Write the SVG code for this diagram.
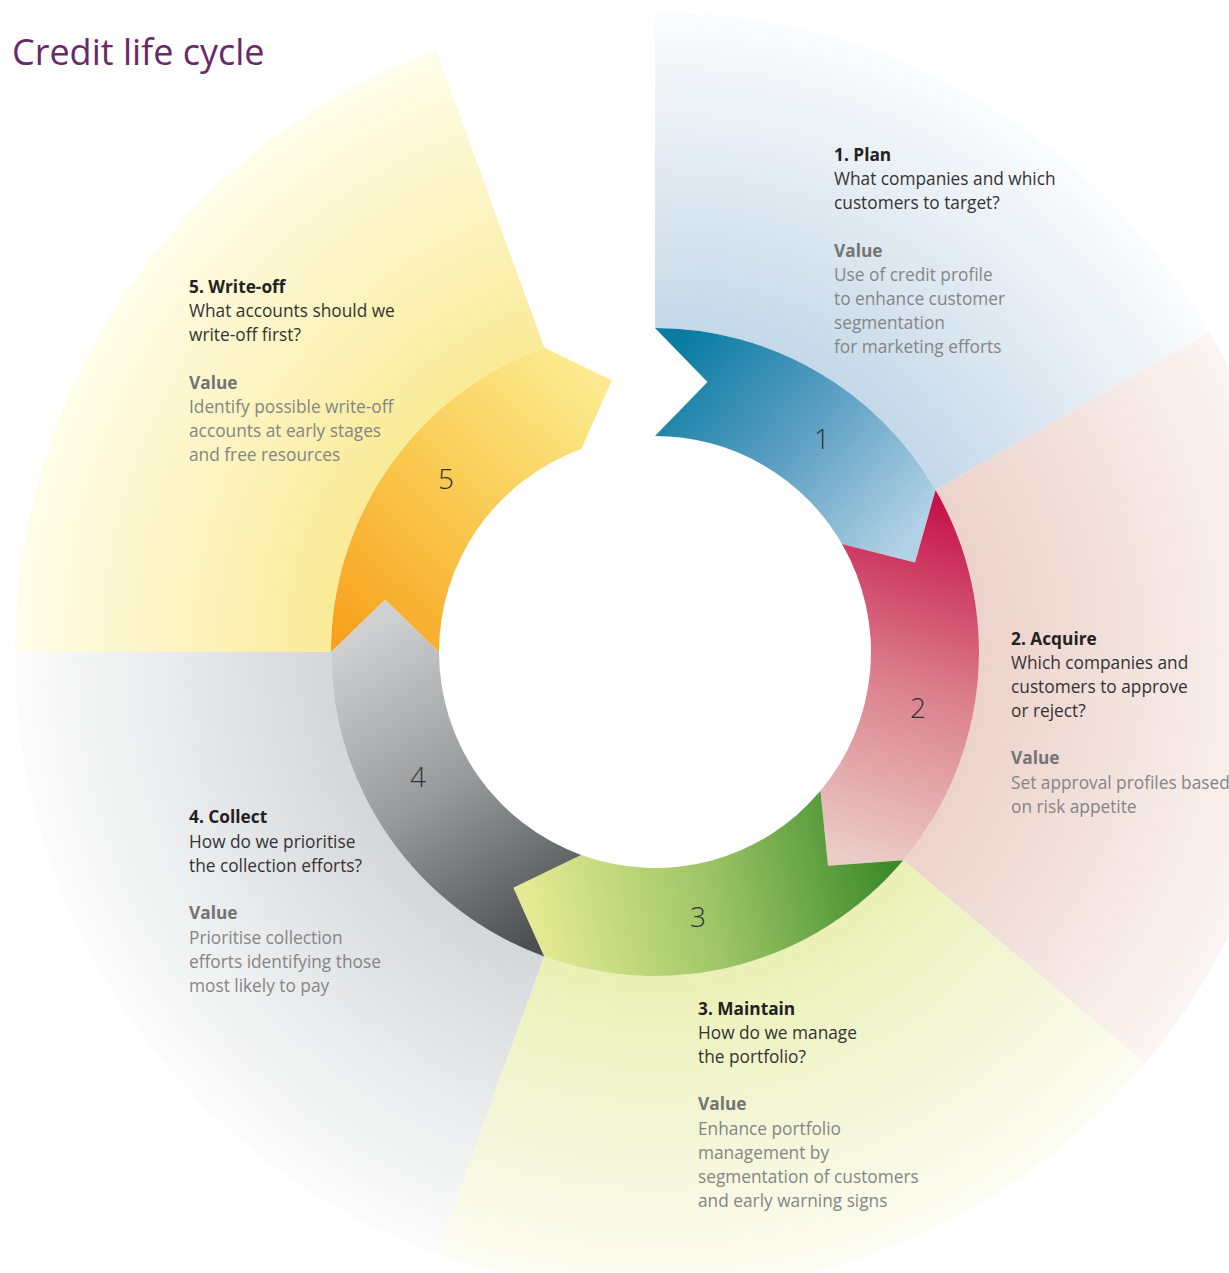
<svg xmlns="http://www.w3.org/2000/svg" width="1229" height="1273" viewBox="0 0 1229 1273">
<style>
  text { font-family: "Open Sans", "Noto Sans", "DejaVu Sans", sans-serif; }
  .title { font-size: 36px; fill: #67296b; font-weight: 400; }
  .head { font-size: 17.3px; font-weight: 700; fill: #222222; }
  .q { font-size: 17.3px; fill: #333333; }
  .vh { font-size: 17.3px; font-weight: 700; fill: #747474; }
  .v { font-size: 17.3px; fill: #858585; }
  .num { font-size: 28px; fill: #333333; text-anchor: middle; font-weight: 300; }
</style>
<defs>
  <radialGradient id="wBlue" gradientUnits="userSpaceOnUse" cx="655" cy="652" r="640">
    <stop offset="0.5" stop-color="#c4d8e8"/>
    <stop offset="0.75" stop-color="#e1eaf2"/>
    <stop offset="1" stop-color="#fbfcfd"/>
  </radialGradient>
  <radialGradient id="wPink" gradientUnits="userSpaceOnUse" cx="655" cy="652" r="640">
    <stop offset="0.5" stop-color="#ecd2ca"/>
    <stop offset="0.75" stop-color="#f3e3de"/>
    <stop offset="1" stop-color="#fbf5f3"/>
  </radialGradient>
  <radialGradient id="wGreen" gradientUnits="userSpaceOnUse" cx="655" cy="652" r="640">
    <stop offset="0.5" stop-color="#eaf0b4"/>
    <stop offset="0.75" stop-color="#f3f6d6"/>
    <stop offset="1" stop-color="#fcfdf3"/>
  </radialGradient>
  <radialGradient id="wGrey" gradientUnits="userSpaceOnUse" cx="655" cy="652" r="640">
    <stop offset="0.5" stop-color="#d5d6d9"/>
    <stop offset="0.75" stop-color="#e9eaeb"/>
    <stop offset="1" stop-color="#fcfcfc"/>
  </radialGradient>
  <radialGradient id="wYellow" gradientUnits="userSpaceOnUse" cx="655" cy="652" r="640">
    <stop offset="0.5" stop-color="#f9eb96"/>
    <stop offset="0.75" stop-color="#fcf4c2"/>
    <stop offset="1" stop-color="#fefde9"/>
  </radialGradient>
  <linearGradient id="sBlue" gradientUnits="userSpaceOnUse" x1="675" y1="350" x2="905" y2="545">
    <stop offset="0" stop-color="#0a7ca2"/>
    <stop offset="0.5" stop-color="#5c9fc2"/>
    <stop offset="1" stop-color="#b2d2e5"/>
  </linearGradient>
  <linearGradient id="sPink" gradientUnits="userSpaceOnUse" x1="945" y1="505" x2="845" y2="855">
    <stop offset="0" stop-color="#c6134b"/>
    <stop offset="0.5" stop-color="#db7f8c"/>
    <stop offset="1" stop-color="#ebccc6"/>
  </linearGradient>
  <linearGradient id="sGreen" gradientUnits="userSpaceOnUse" x1="885" y1="840" x2="535" y2="915">
    <stop offset="0" stop-color="#3d8a2b"/>
    <stop offset="0.5" stop-color="#9cc466"/>
    <stop offset="1" stop-color="#e3ea92"/>
  </linearGradient>
  <linearGradient id="sGrey" gradientUnits="userSpaceOnUse" x1="545" y1="935" x2="360" y2="630">
    <stop offset="0" stop-color="#4e4f51"/>
    <stop offset="0.5" stop-color="#999a9c"/>
    <stop offset="1" stop-color="#d0d1d3"/>
  </linearGradient>
  <linearGradient id="sYellow" gradientUnits="userSpaceOnUse" x1="345" y1="645" x2="595" y2="385">
    <stop offset="0" stop-color="#f7a11c"/>
    <stop offset="0.5" stop-color="#f9c950"/>
    <stop offset="1" stop-color="#fbeb8e"/>
  </linearGradient>
</defs>
<rect x="0" y="0" width="1229" height="1273" fill="#ffffff"/>

<text class="title" x="12" y="65">Credit life cycle</text>

<g id="node-1-plan">
  <path d="M655,12 A640,640 0 0,1 1209.26,332 L935.59,490 A324,324 0 0,0 655,328 Z" fill="url(#wBlue)"/>
  <path d="M655,328 A324,324 0 0,1 935.59,490 L915.02,562.47 L842.06,544 A216,216 0 0,0 655,436 L707.47,382.05 Z" fill="url(#sBlue)"/>
  <text class="num" x="822" y="449">1</text>
  <text class="head" x="834" y="161">1. Plan</text>
  <text class="q" x="834" y="185">What companies and which</text>
  <text class="q" x="834" y="209">customers to target?</text>
  <text class="vh" x="834" y="257">Value</text>
  <text class="v" x="834" y="281">Use of credit profile</text>
  <text class="v" x="834" y="305">to enhance customer</text>
  <text class="v" x="834" y="329">segmentation</text>
  <text class="v" x="834" y="353">for marketing efforts</text>
</g>

<g id="node-2-acquire">
  <path d="M1209.26,332 A640,640 0 0,1 1145.27,1063.39 L903.20,860.26 A324,324 0 0,0 935.59,490 Z" fill="url(#wPink)"/>
  <path d="M935.59,490 A324,324 0 0,1 903.20,860.26 L828.06,865.72 L820.46,790.84 A216,216 0 0,0 842.06,544 L915.02,562.47 Z" fill="url(#sPink)"/>
  <text class="num" x="918" y="718">2</text>
  <text class="head" x="1011" y="645">2. Acquire</text>
  <text class="q" x="1011" y="669">Which companies and</text>
  <text class="q" x="1011" y="693">customers to approve</text>
  <text class="q" x="1011" y="717">or reject?</text>
  <text class="vh" x="1011" y="764">Value</text>
  <text class="v" x="1011" y="789">Set approval profiles based</text>
  <text class="v" x="1011" y="813">on risk appetite</text>
</g>

<g id="node-3-maintain">
  <path d="M1145.27,1063.39 A640,640 0 0,1 436.11,1253.40 L544.19,956.46 A324,324 0 0,0 903.20,860.26 Z" fill="url(#wGreen)"/>
  <path d="M903.20,860.26 A324,324 0 0,1 544.19,956.46 L513.36,887.72 L581.12,854.97 A216,216 0 0,0 820.46,790.84 L828.06,865.72 Z" fill="url(#sGreen)"/>
  <text class="num" x="698" y="927">3</text>
  <text class="head" x="698" y="1015">3. Maintain</text>
  <text class="q" x="698" y="1039">How do we manage</text>
  <text class="q" x="698" y="1063">the portfolio?</text>
  <text class="vh" x="698" y="1110">Value</text>
  <text class="v" x="698" y="1135">Enhance portfolio</text>
  <text class="v" x="698" y="1159">management by</text>
  <text class="v" x="698" y="1183">segmentation of customers</text>
  <text class="v" x="698" y="1207">and early warning signs</text>
</g>

<g id="node-4-collect">
  <path d="M436.11,1253.40 A640,640 0 0,1 15,652 L331,652 A324,324 0 0,0 544.19,956.46 Z" fill="url(#wGrey)"/>
  <path d="M544.19,956.46 A324,324 0 0,1 331,652 L385.05,599.53 L439,652 A216,216 0 0,0 581.12,854.97 L513.36,887.72 Z" fill="url(#sGrey)"/>
  <text class="num" x="418" y="787">4</text>
  <text class="head" x="189" y="823">4. Collect</text>
  <text class="q" x="189" y="848">How do we prioritise</text>
  <text class="q" x="189" y="872">the collection efforts?</text>
  <text class="vh" x="189" y="919">Value</text>
  <text class="v" x="189" y="944">Prioritise collection</text>
  <text class="v" x="189" y="968">efforts identifying those</text>
  <text class="v" x="189" y="992">most likely to pay</text>
</g>

<g id="node-5-write-off">
  <path d="M15,652 A640,640 0 0,1 436.11,50.60 L544.19,347.54 A324,324 0 0,0 331,652 Z" fill="url(#wYellow)"/>
  <path d="M331,652 A324,324 0 0,1 544.19,347.54 L611.98,380.39 L581.12,449.03 A216,216 0 0,0 439,652 L385.05,599.53 Z" fill="url(#sYellow)"/>
  <text class="num" x="446" y="489">5</text>
  <text class="head" x="189" y="293">5. Write-off</text>
  <text class="q" x="189" y="317">What accounts should we</text>
  <text class="q" x="189" y="341">write-off first?</text>
  <text class="vh" x="189" y="389">Value</text>
  <text class="v" x="189" y="413">Identify possible write-off</text>
  <text class="v" x="189" y="437">accounts at early stages</text>
  <text class="v" x="189" y="461">and free resources</text>
</g>

<g id="connectors"></g>
</svg>
